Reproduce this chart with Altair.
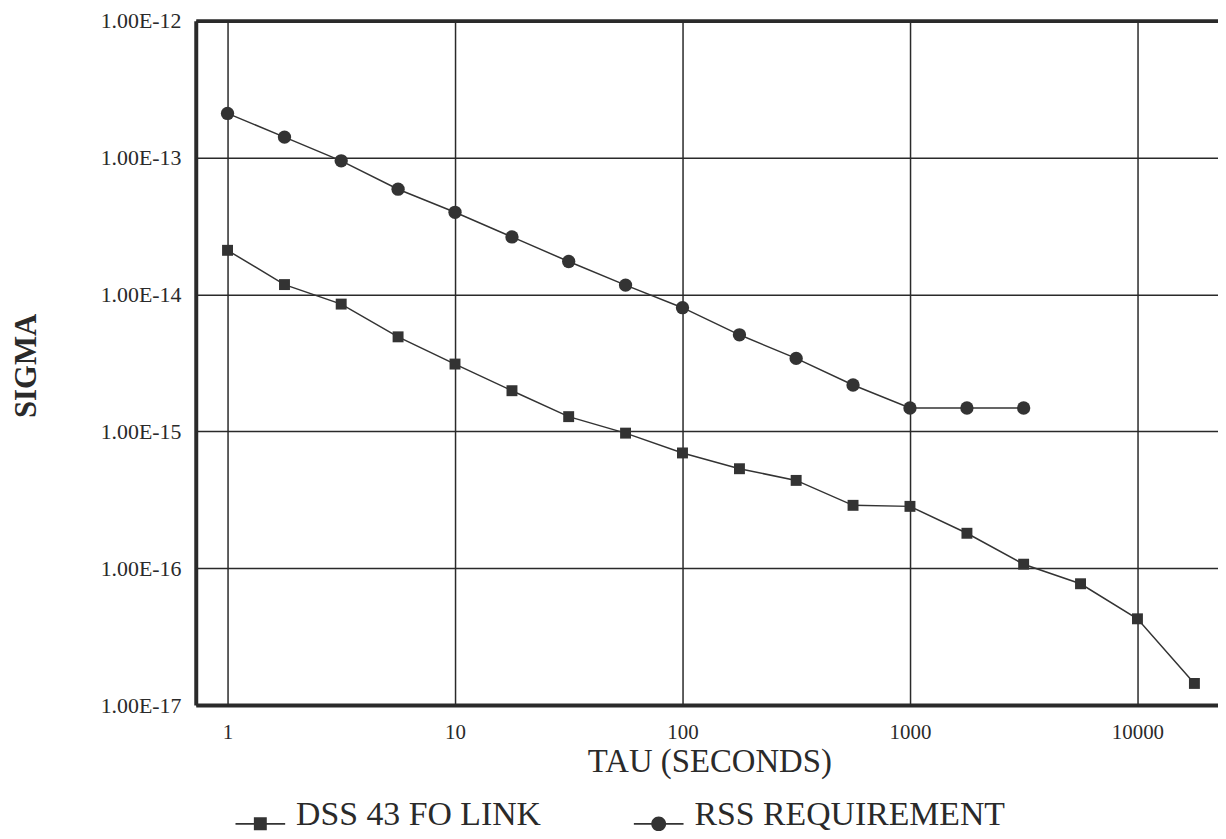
import altair as alt
import pandas as pd

# ---- data ----
series_names = ["DSS 43 FO LINK", "RSS REQUIREMENT"]

tau_dss = [1, 1.78, 3.16, 5.62, 10, 17.8, 31.6, 56.2, 100, 178, 316, 562,
           1000, 1780, 3160, 5620, 10000, 17800]
sigma_dss = [2.1e-14, 1.18e-14, 8.5e-15, 4.9e-15, 3.1e-15, 1.98e-15, 1.28e-15,
             9.7e-16, 6.95e-16, 5.33e-16, 4.38e-16, 2.88e-16, 2.83e-16,
             1.8e-16, 1.07e-16, 7.7e-17, 4.27e-17, 1.44e-17]

tau_rss = [1, 1.78, 3.16, 5.62, 10, 17.8, 31.6, 56.2, 100, 178, 316, 562,
           1000, 1780, 3160]
sigma_rss = [2.1e-13, 1.41e-13, 9.46e-14, 5.87e-14, 3.98e-14, 2.63e-14,
             1.74e-14, 1.17e-14, 8.0e-15, 5.07e-15, 3.41e-15, 2.18e-15,
             1.48e-15, 1.48e-15, 1.48e-15]

x_ticks = [1, 10, 100, 1000, 10000]
y_ticks = [1e-12, 1e-13, 1e-14, 1e-15, 1e-16, 1e-17]

df = pd.DataFrame({
    "tau": tau_dss + tau_rss,
    "sigma": sigma_dss + sigma_rss,
    "series": [series_names[0]] * len(tau_dss) + [series_names[1]] * len(tau_rss),
})

FONT = "Liberation Serif"
INK = "#2a2a2a"
MARK = "#333333"

x_scale = alt.Scale(type="log", domain=[0.725, 22600], nice=False)
y_scale = alt.Scale(type="log", domain=[1e-17, 1e-12], nice=False)

x_bottom_axis = alt.Axis(
    values=x_ticks, format="d", orient="bottom", title="TAU (SECONDS)",
    grid=True, gridColor=INK, gridWidth=1.5, gridOpacity=1,
    domainColor=INK, domainWidth=4, ticks=False, tickSize=0,
    labelFont=FONT, labelFontSize=21, labelColor=INK,
    labelBaseline="alphabetic", labelPadding=34,
    titleFont=FONT, titleFontSize=33, titleFontWeight="normal", titleColor=INK,
    titleBaseline="alphabetic", titleAlign="center", titleX=517, titleY=67,
)
x_top_axis = alt.Axis(
    orient="top", title=None, labels=False, ticks=False, tickSize=0, grid=False,
    domainColor=INK, domainWidth=4,
)
y_axis = alt.Axis(
    values=y_ticks, labelExpr="'1.00E' + round(log(datum.value) / LN10)",
    title="SIGMA", grid=True, gridColor=INK, gridWidth=1.5, gridOpacity=1,
    domainColor=INK, domainWidth=4, ticks=False, tickSize=0,
    labelFont=FONT, labelFontSize=22, labelColor=INK, labelPadding=15,
    titleFont=FONT, titleFontSize=31, titleFontWeight="bold", titleColor=INK,
    titleAngle=270, titleBaseline="alphabetic", titleAlign="center",
    titleX=-161, titleY=347,
)

y_enc = alt.Y("sigma:Q", scale=y_scale, axis=y_axis)

base = alt.Chart(df)

lines = base.mark_line(color=MARK, strokeWidth=1.5).encode(
    x=alt.X("tau:Q", scale=x_scale, axis=x_bottom_axis),
    y=y_enc,
    detail="series:N",
)

dss_pts = base.transform_filter(
    alt.datum.series == series_names[0]
).mark_point(shape="square", filled=True, size=121, color=MARK, opacity=1).encode(
    x=alt.X("tau:Q", scale=x_scale, axis=x_top_axis),
    y=y_enc,
)

rss_pts = base.transform_filter(
    alt.datum.series == series_names[1]
).mark_point(shape="circle", filled=True, size=180, color=MARK, opacity=1).encode(
    x=alt.X("tau:Q", scale=x_scale, axis=None),
    y=y_enc,
)

# legend symbols: a thin filled bar (the line) with the marker sitting on it
path_dss = "M-1,0.305H1V0.375H-1ZM-0.26,0.08H0.26V0.6H-0.26Z"
path_rss = ("M-1,0.305H1V0.375H-1Z"
            "M0.3,0.34A0.3,0.3,0,1,1,-0.3,0.34A0.3,0.3,0,1,1,0.3,0.34Z")

legend_layer = base.transform_filter("datum.tau < 0").mark_point(
    filled=True, size=2500, color=MARK, opacity=1
).encode(
    x=alt.X("tau:Q", scale=x_scale, axis=None),
    y=y_enc,
    shape=alt.Shape(
        "series:N",
        scale=alt.Scale(domain=series_names, range=[path_dss, path_rss]),
        legend=alt.Legend(
            title=None, orient="none", direction="horizontal",
            legendX=40, legendY=775,
            symbolSize=2500, symbolFillColor=MARK,
            symbolStrokeWidth=0, symbolOpacity=1,
            labelFont=FONT, labelFontSize=34, labelColor=INK, labelLimit=500,
            labelOffset=11, columnPadding=93, padding=0,
        ),
    ),
)

chart = alt.layer(lines, dss_pts, rss_pts, legend_layer).resolve_axis(
    x="independent"
).properties(
    width=1029, height=689,
    autosize=alt.AutoSizeParams(type="none"),
    padding={"left": 189, "top": 10, "right": 0, "bottom": 124},
    background="white",
).configure_view(stroke="transparent")

chart.save("out.html", embed_options={"renderer": "svg", "actions": False})
